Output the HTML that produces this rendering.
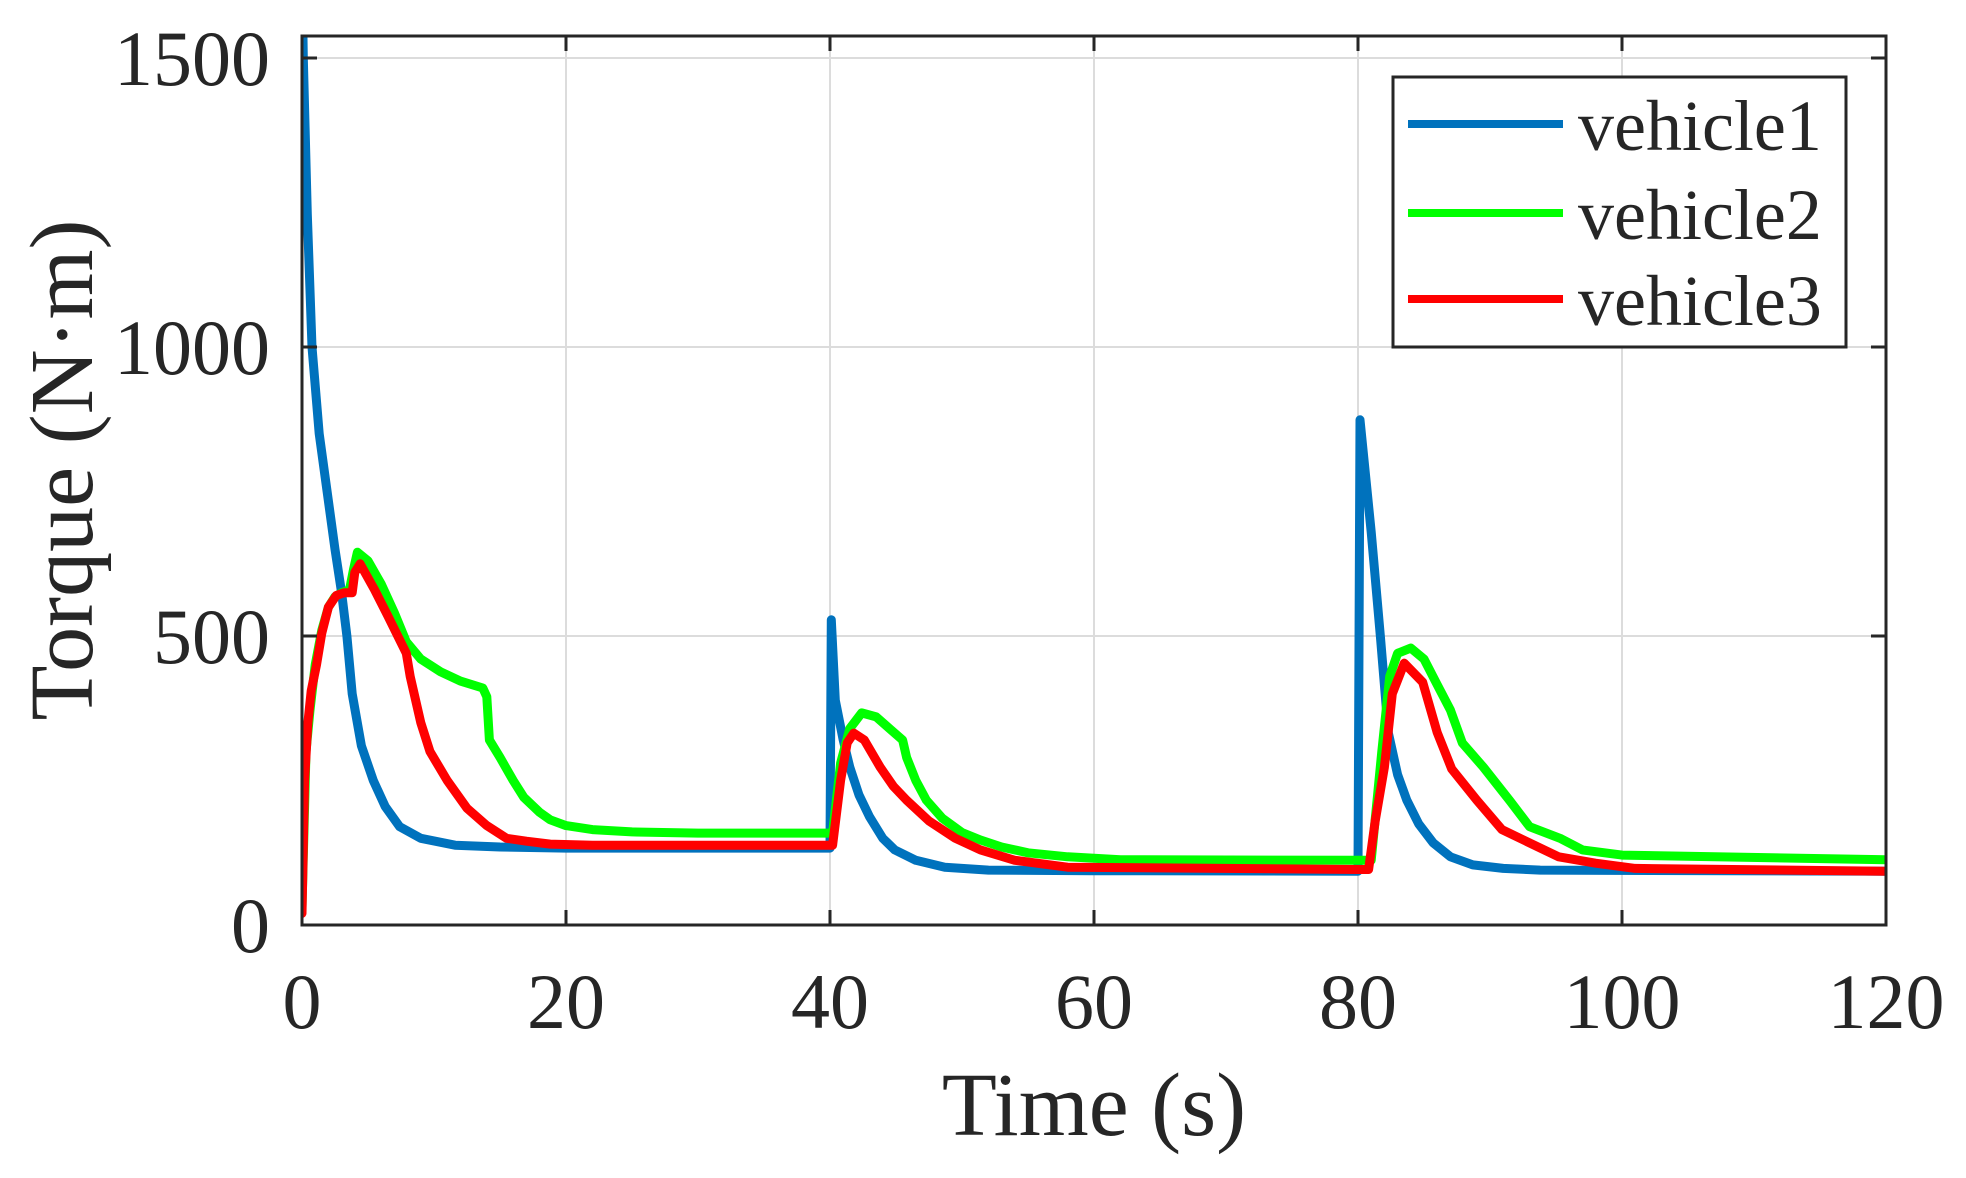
<!DOCTYPE html>
<html><head><meta charset="utf-8">
<style>
html,body{margin:0;padding:0;background:#fff;}
svg{display:block;}
text{font-family:"Liberation Serif",serif;fill:#262626;}
</style></head>
<body>
<svg id="chart" width="1966" height="1178" viewBox="0 0 1966 1178" xmlns="http://www.w3.org/2000/svg">
<defs><clipPath id="clip"><rect x="302" y="36" width="1584" height="889"/></clipPath></defs>
<g id="grid"></g>
<g id="series" clip-path="url(#clip)"></g>
<rect x="302" y="36" width="1584" height="889" fill="none" stroke="#262626" stroke-width="3"/>
<g id="ticks"></g>
<text x="1094" y="1135" font-size="90" text-anchor="middle">Time (s)</text>
<text transform="translate(92,470) rotate(-90)" font-size="90" text-anchor="middle">Torque (N·m)</text>
<g>
<rect x="1393" y="77" width="453" height="270" fill="#fff" stroke="#262626" stroke-width="3"/>
<line x1="1408" y1="124" x2="1563" y2="124" stroke="#0072BD" stroke-width="8"/>
<text x="1578" y="150" font-size="72">vehicle1</text>
<line x1="1408" y1="213" x2="1563" y2="213" stroke="#00FF00" stroke-width="8"/>
<text x="1578" y="239" font-size="72">vehicle2</text>
<line x1="1408" y1="299" x2="1563" y2="299" stroke="#FF0000" stroke-width="8"/>
<text x="1578" y="325" font-size="72">vehicle3</text>
</g>
</svg>
<script>
const xTicks=[0,20,40,60,80,100,120];
const yTicks=[0,500,1000,1500];
const t1=[0,0.1,0.4,0.76,1.3,1.9,2.5,3.0,3.4,3.8,4.5,5.4,6.3,7.4,9,11.6,15,20,40,40.1,40.4,41,41.5,42.2,43,44,44.9,46.5,48.7,52,60,80,80.15,81,81.7,82.3,83,83.7,84.6,85.7,87,88.7,91,93.8,120];
const v1=[1650,1500,1230,1000,850,750,650,575,500,400,310,250,205,170,150,138,135,133,133,528,389,320,273,225,187,150,130,112,100,95,94,93,874,680,499,332,260,216,175,142,118,104,98,95,93];
const t2=[0,0.3,0.6,1.0,1.5,2.0,2.5,3.0,3.6,3.9,4.2,5.0,6.0,7.0,7.9,9,10.5,12,13.7,14.0,14.2,15,16,16.8,18,18.8,20,22,25,30,40,40.2,40.8,41.5,42.4,43.5,44.5,45.5,45.8,46.5,47.3,48.5,50,51.4,53,55,58,62,80,80.3,81,81.8,82.4,83,84,85,85.9,87,87.9,89.5,91.5,93,95.3,97,100,120];
const v2=[30,300,370,450,510,550,568,575,580,615,645,630,590,540,490,460,438,422,410,395,320,290,250,221,195,182,172,165,161,159,159,159,280,340,367,360,340,320,290,250,216,185,160,147,135,125,118,113,112,112,112,300,430,470,479,460,420,372,315,273,215,170,150,130,121,113,112];
const t3=[0,0.2,0.45,0.7,1.1,1.5,2.0,2.6,3.2,3.8,4.0,4.4,5.5,6.5,7.9,8.2,9,9.7,11,12.5,14,15.5,17,18.8,22,40,40.2,40.8,41.3,41.8,42.6,43.8,44.8,45.8,47.5,49.5,51.4,54,58,80,80.3,80.8,81.3,82,82.6,83.5,84.9,86,87.1,89,90.9,93,95.2,98,101,120];
const v3=[20,250,350,405,450,505,550,570,575,575,610,625,580,535,470,430,350,300,250,202,172,150,145,140,138,138,138,250,315,332,320,273,240,216,180,150,130,112,100,96,96,96,180,273,400,453,420,333,270,216,165,142,118,107,98,93,93];
const X=t=>302+t*(1584/120);
const Y=v=>925-v*(289/500);
const NS="http://www.w3.org/2000/svg";
const grid=document.getElementById('grid'),ticks=document.getElementById('ticks'),ser=document.getElementById('series');
function mk(tag,attrs,parent){const e=document.createElementNS(NS,tag);for(const k in attrs)e.setAttribute(k,attrs[k]);parent.appendChild(e);return e;}
xTicks.forEach(t=>{
  const g=mk('line',{x1:X(t),y1:36,x2:X(t),y2:925,stroke:'#dcdcdc','stroke-width':2},grid);
  
  
  const a=mk('line',{x1:X(t),y1:925,x2:X(t),y2:910,stroke:'#262626','stroke-width':3},ticks);
  
  
  const b=mk('line',{x1:X(t),y1:36,x2:X(t),y2:51,stroke:'#262626','stroke-width':3},ticks);
  
  
  const l=mk('text',{x:X(t),y:1028,'font-size':78,'text-anchor':'middle'},ticks);
  l.textContent=t;
  
  
});
yTicks.forEach(v=>{
  const g=mk('line',{x1:302,y1:Y(v),x2:1886,y2:Y(v),stroke:'#dcdcdc','stroke-width':2},grid);
  
  
  const a=mk('line',{x1:302,y1:Y(v),x2:317,y2:Y(v),stroke:'#262626','stroke-width':3},ticks);
  
  
  const b=mk('line',{x1:1871,y1:Y(v),x2:1886,y2:Y(v),stroke:'#262626','stroke-width':3},ticks);
  
  
  const l=mk('text',{x:270,y:Y(v)+27,'font-size':78,'text-anchor':'end'},ticks);
  l.textContent=v;
  
  
});
[[t1,v1,'#0072BD','vehicle1-line'],[t2,v2,'#00FF00','vehicle2-line'],[t3,v3,'#FF0000','vehicle3-line']].forEach(([ts,vs,c,n])=>{
  const d=ts.map((t,i)=>(i?'L':'M')+X(t).toFixed(1)+','+Y(vs[i]).toFixed(1)).join('');
  const p=mk('path',{d:d,fill:'none',stroke:c,'stroke-width':9,'stroke-linejoin':'round','stroke-linecap':'round'},ser);
  
  
});
</script>
</body></html>
